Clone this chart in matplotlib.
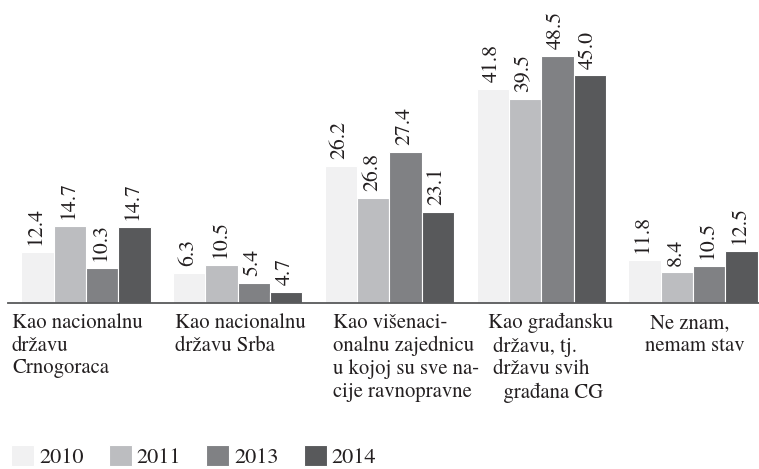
import numpy as np
import matplotlib
matplotlib.use("Agg")
import matplotlib.pyplot as plt

plt.rcParams['font.family'] = ['TeX Gyre Termes', 'STIXGeneral', 'DejaVu Serif']

categories = ["Kao nacionalnu\ndržavu\nCrnogoraca",
              "Kao nacionalnu\ndržavu Srba",
              "Kao višenaci-\nonalnu zajednicu\nu kojoj su sve na-\ncije ravnopravne",
              "Kao građansku\n državu, tj.\n državu svih\n   građana CG",
              " Ne znam,\nnemam stav"]
years = ["2010", "2011", "2013", "2014"]

# bar heights as drawn in the picture
y2010 = [10.0, 5.8, 26.9, 42.0, 8.3]
y2011 = [15.1, 7.3, 20.6, 39.9, 5.9]
y2013 = [6.7, 3.8, 29.5, 48.5, 7.1]
y2014 = [14.9, 2.0, 17.7, 44.6, 10.2]

# numbers printed above the bars
lab2010 = ["12.4", "6.3", "26.2", "41.8", "11.8"]
lab2011 = ["14.7", "10.5", "26.8", "39.5", "8.4"]
lab2013 = ["10.3", "5.4", "27.4", "48.5", "10.5"]
lab2014 = ["14.7", "4.7", "23.1", "45.0", "12.5"]

series = [y2010, y2011, y2013, y2014]
labels = [lab2010, lab2011, lab2013, lab2014]
colors = ['#f1f1f2', '#bcbdc0', '#808184', '#58595b']
txt = '#231f20'

fig = plt.figure(figsize=(7.59, 4.69), dpi=100)
rend = fig.canvas.get_renderer()


def fit_size(s, target_px):
    # font size that gives the string the width seen in the picture
    t = fig.text(0, 0, s, fontsize=10)
    w = t.get_window_extent(rend).width
    t.remove()
    return 10 * target_px / w


fs_cat = fit_size("Kao nacionalnu", 130)
fs_val = fit_size("12.4", 38)
fs_leg = fit_size("2010", 45)

ax = fig.add_axes([8/759, (469-302.5)/469, 751/759, 280.5/469])

x = np.arange(len(categories))
w = 0.213
for i, (vals, labs) in enumerate(zip(series, labels)):
    pos = x + (i - 1.5) * w
    bars = ax.bar(pos, vals, width=w, color=colors[i], edgecolor='white',
                  linewidth=0.8, label=years[i])
    for b, s in zip(bars, labs):
        ax.annotate(s, (b.get_x() + b.get_width()/2, b.get_height()),
                    xytext=(-1, 5), textcoords='offset points',
                    rotation=90, ha='center', va='bottom',
                    fontsize=fs_val, color=txt)

ax.set_xlim(-0.514, 4.435)
ax.set_ylim(0, 280.5/5.09)
for s in ['top', 'left', 'right']:
    ax.spines[s].set_visible(False)
ax.spines['bottom'].set_color('#58595b')
ax.spines['bottom'].set_linewidth(1.3)
ax.set_xticks([])
ax.set_yticks([])

# category labels under the axis
label_px = [12, 175, 333, 488, 645]
for px, c in zip(label_px, categories):
    fig.text(px/759, 1 - 313/469, c, ha='left', va='top', fontsize=fs_cat,
             color=txt, linespacing=1.2)

em = fs_leg * 100 / 72
fig.legend(loc='lower left', bbox_to_anchor=(11/759, 1/469), ncol=4,
           frameon=False, fontsize=fs_leg, handlelength=23/em,
           handleheight=23/em, handletextpad=5/em, columnspacing=25/em,
           borderpad=0, borderaxespad=0, labelcolor=txt)

fig.savefig('out.png', dpi=100)
